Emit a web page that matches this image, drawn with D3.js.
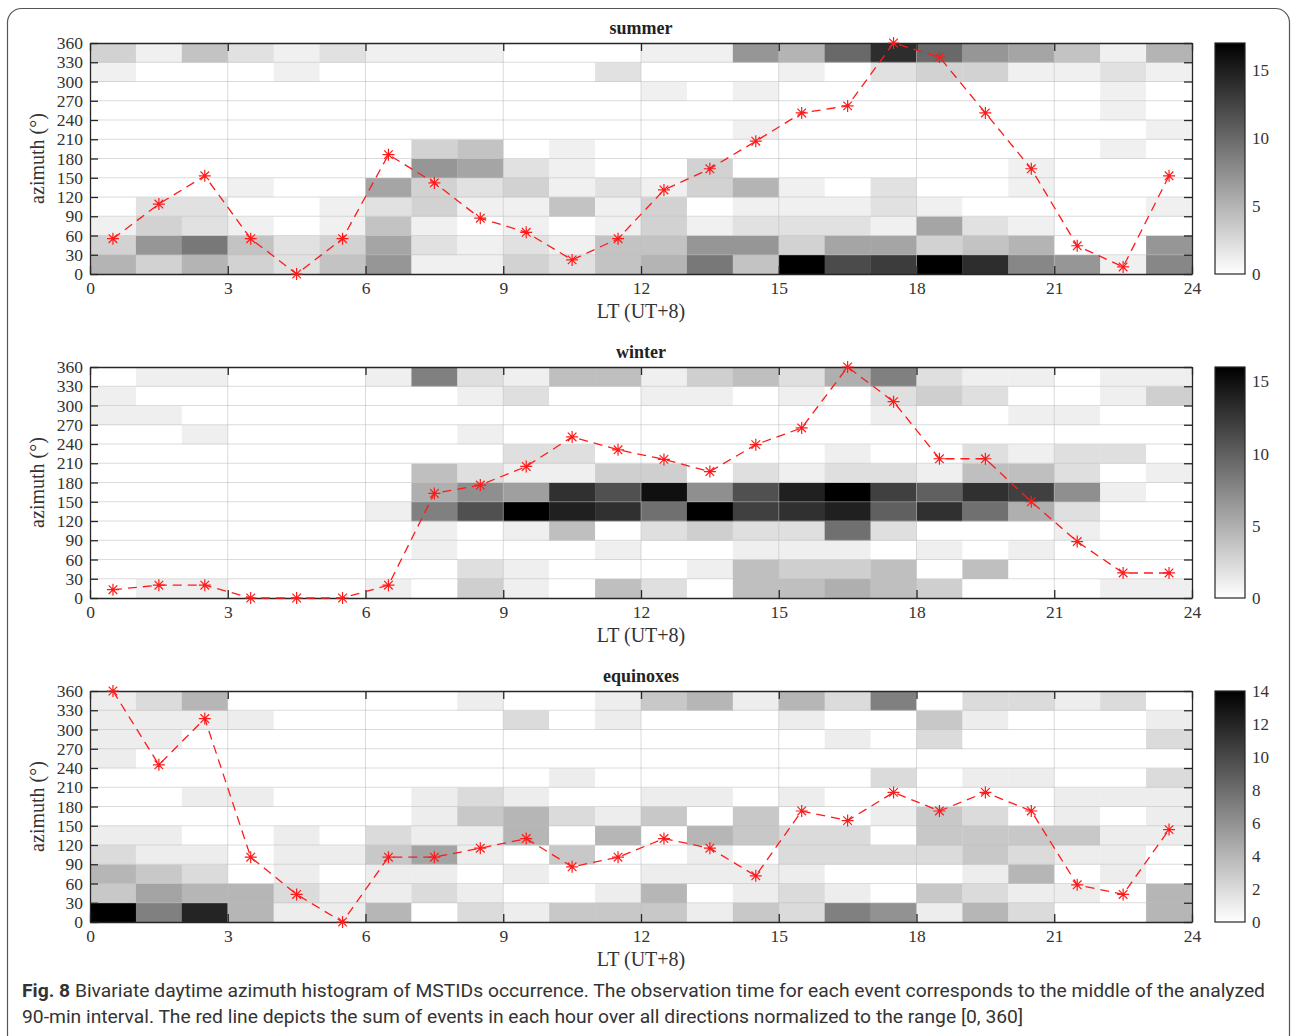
<!DOCTYPE html>
<html>
<head>
<meta charset="utf-8">
<script src="https://cdn.jsdelivr.net/npm/d3@7"></script>
<style>
  html, body { margin: 0; padding: 0; background: #fff; }
  svg { display: block; }
</style>
</head>
<body>
<svg id="fig" width="1291" height="1036"></svg>
<script>
// Local time hours (bin starts) and azimuth bins (bin starts, degrees)
const hours = d3.range(0, 24);
const azimuthBins = d3.range(0, 360, 30);
const hourTicks = [0, 3, 6, 9, 12, 15, 18, 21, 24];
const azimuthTicks = [0, 30, 60, 90, 120, 150, 180, 210, 240, 270, 300, 330, 360];

// Event counts, one row per azimuth bin (0-30 first), one column per hour
const summerCounts = [
  [5,3,5,3,2,4,7,1,1,3,2,4, 5,9,4,17,12,13,17,14,8,7,1,8],
  [3,7,9,4,2,3,6,2,1,2,1,4, 4,7,7,3,6,6,3,4,5,0,0,7],
  [1,3,2,1,0,1,4,1,0,1,0,1, 3,1,2,2,2,1,6,2,1,0,0,0],
  [0,2,2,0,0,1,2,3,1,1,4,1, 3,0,1,1,1,2,1,0,0,0,0,1],
  [0,0,0,1,0,0,6,3,2,3,1,2, 1,3,5,1,0,2,0,0,1,0,0,0],
  [0,0,0,0,0,0,0,7,6,2,1,0, 0,3,0,0,0,0,0,0,1,0,0,0],
  [0,0,0,0,0,0,0,3,4,0,1,0, 0,0,0,0,0,0,0,0,0,0,1,0],
  [0,0,0,0,0,0,0,0,0,0,0,0, 0,0,1,0,0,0,0,0,0,0,0,1],
  [0,0,0,0,0,0,0,0,0,0,0,0, 0,0,0,0,0,0,0,0,0,0,1,0],
  [0,0,0,0,0,0,0,0,0,0,0,0, 1,0,1,0,0,0,0,0,0,0,1,0],
  [1,0,0,0,1,0,0,0,0,0,0,2, 0,0,0,1,0,2,3,3,1,1,2,1],
  [3,1,4,2,1,2,1,1,1,0,0,0, 1,1,7,5,10,14,10,7,6,4,1,5]
];
const winterCounts = [
  [0,1,1,0,0,0,1,0,3,1,0,4, 2,0,4,4,5,4,3,0,0,0,1,1],
  [0,0,0,0,0,0,0,0,2,1,0,0, 0,1,4,3,3,4,0,4,0,0,0,0],
  [0,0,0,0,0,0,0,1,0,0,0,1, 0,0,1,1,1,0,1,0,1,0,0,0],
  [0,0,0,0,0,0,0,1,0,1,4,0, 2,3,2,2,9,2,0,0,0,1,0,0],
  [0,0,0,0,0,0,1,8,11,16,14,13, 9,16,12,13,14,10,13,9,5,2,0,0],
  [0,0,0,0,0,0,0,5,7,6,13,11, 15,7,11,14,16,12,10,13,12,7,1,0],
  [0,0,0,0,0,0,0,4,2,1,1,3, 3,0,2,1,2,2,1,4,4,2,0,1],
  [0,0,0,0,0,0,0,0,0,2,2,0, 0,0,0,0,1,0,0,2,1,2,2,0],
  [0,0,1,0,0,0,0,0,1,0,0,0, 0,0,0,0,0,0,0,0,0,0,0,0],
  [1,1,0,0,0,0,0,0,0,0,0,0, 0,0,0,0,0,1,0,0,1,1,0,0],
  [1,0,0,0,0,0,0,0,1,2,0,0, 1,1,0,1,0,2,3,2,0,0,1,3],
  [0,1,1,0,0,0,1,8,2,1,4,4, 1,3,4,2,5,8,2,1,1,0,1,1]
];
const equinoxCounts = [
  [14,7,12,4,1,1,4,0,2,1,3,3, 3,1,3,2,7,6,1,4,2,0,0,4],
  [3,5,4,4,2,1,1,2,1,0,0,1, 4,0,1,2,1,0,3,2,1,1,0,4],
  [4,3,2,0,1,0,1,1,0,1,0,0, 1,1,1,1,0,0,0,1,4,0,1,0],
  [2,1,1,0,1,1,3,5,1,0,3,0, 0,1,0,2,2,2,2,3,2,1,1,0],
  [1,1,0,0,1,0,2,1,1,4,0,4, 0,4,3,2,2,0,3,3,3,3,1,1],
  [0,0,0,0,0,0,0,1,3,4,2,1, 3,0,3,0,0,1,3,2,0,1,0,1],
  [0,0,1,1,0,0,0,1,2,1,0,0, 1,1,0,1,0,0,0,0,0,1,1,1],
  [0,0,0,0,0,0,0,0,0,0,1,0, 0,0,0,0,0,2,0,1,1,0,0,2],
  [1,0,0,0,0,0,0,0,0,0,0,0, 0,0,0,0,0,0,0,0,0,0,0,0],
  [1,1,0,0,0,0,0,0,0,0,0,0, 0,0,0,0,1,0,2,0,0,0,0,2],
  [1,1,1,1,0,0,0,0,0,2,0,1, 0,0,0,1,0,0,3,1,0,0,0,1],
  [1,2,4,0,0,0,0,0,1,0,0,1, 3,4,1,4,2,7,0,2,2,1,2,0]
];

// Hourly sums over all directions, normalized to [0, 360]
const summerSum = [55,109,153,55,0,55,186,142,87,65,22,55, 131,164,207,251,262,360,338,251,164,44,11,153];
const winterSum = [13,20,20,0,0,0,20,163,176,205,251,231, 216,197,239,265,360,306,217,217,150,88,39,39];
const equinoxSum = [360,245,317,101,43,0,101,101,115,130,86,101, 130,115,72,173,158,202,173,202,173,58,43,144];

// Colour bar extents and ticks
const colorMax = [17, 16, 14];
const colorTicks = [[0,5,10,15],[0,5,10,15],[0,2,4,6,8,10,12,14]];
const panelTitles = ["summer", "winter", "equinoxes"];
const panelCounts = [summerCounts, winterCounts, equinoxCounts];
const panelSums = [summerSum, winterSum, equinoxSum];

const svg = d3.select("#fig");
const serif = "'Liberation Serif', 'DejaVu Serif', serif";
const axisColor = "#262626";

// outer frame
svg.append("rect")
  .attr("x", 7.5).attr("y", 8.5).attr("width", 1282).attr("height", 1040)
  .attr("rx", 14).attr("fill", "none").attr("stroke", "#555").attr("stroke-width", 1.2);

const plotLeft = 90, plotRight = 1192, plotH = 231;
const panelTops = [43, 367, 691];
const x = d3.scaleLinear().domain([0, 24]).range([plotLeft, plotRight]);

// gradient for colour bars
const defs = svg.append("defs");
const grad = defs.append("linearGradient").attr("id", "grayRamp")
  .attr("x1", 0).attr("y1", 1).attr("x2", 0).attr("y2", 0);
grad.append("stop").attr("offset", "0%").attr("stop-color", "#fff");
grad.append("stop").attr("offset", "100%").attr("stop-color", "#000");

const asterisk = "M0,-6V6M-6,0H6M-4.3,-4.3L4.3,4.3M-4.3,4.3L4.3,-4.3";

panelTitles.forEach((title, p) => {
  const top = panelTops[p], bottom = top + plotH;
  const y = d3.scaleLinear().domain([0, 360]).range([bottom, top]);
  const color = d3.scaleLinear().domain([0, colorMax[p]]).range(["#ffffff", "#000000"]);
  const g = svg.append("g");

  // heat map cells
  const cells = [];
  panelCounts[p].forEach((row, r) => row.forEach((v, c) => cells.push({h: hours[c], a: azimuthBins[r], v})));
  g.append("g").selectAll("rect").data(cells).join("rect")
    .attr("x", d => x(d.h))
    .attr("y", d => y(d.a + 30))
    .attr("width", d => x(d.h + 1) - x(d.h) + 0.3)
    .attr("height", d => y(d.a) - y(d.a + 30) + 0.3)
    .attr("fill", d => color(d.v));

  // grid
  const grid = g.append("g").attr("stroke", "#bdbdbd").attr("stroke-opacity", 0.55).attr("stroke-width", 1);
  grid.selectAll(".gx").data(hourTicks.slice(1, -1)).join("line")
    .attr("x1", d => x(d)).attr("x2", d => x(d)).attr("y1", top).attr("y2", bottom);
  grid.selectAll(".gy").data(azimuthTicks.slice(1, -1)).join("line")
    .attr("y1", d => y(d)).attr("y2", d => y(d)).attr("x1", plotLeft).attr("x2", plotRight);

  // axes (box with inward ticks)
  const styleAxis = sel => {
    sel.attr("font-family", serif).attr("font-size", 17);
    sel.selectAll("path").attr("stroke", axisColor).attr("stroke-width", 1.3);
    sel.selectAll("line").attr("stroke", axisColor).attr("stroke-width", 1.3);
    sel.selectAll("text").attr("fill", "#333").style("font-family", serif).style("font-size", "17.5px");
  };
  g.append("g").attr("transform", `translate(0,${bottom})`)
    .call(d3.axisBottom(x).tickValues(hourTicks).tickFormat(d3.format("d")).tickSizeInner(-8).tickSizeOuter(0).tickPadding(8))
    .call(styleAxis);
  g.append("g").attr("transform", `translate(0,${top})`)
    .call(d3.axisTop(x).tickValues(hourTicks).tickFormat("").tickSizeInner(-8).tickSizeOuter(0))
    .call(styleAxis);
  g.append("g").attr("transform", `translate(${plotLeft},0)`)
    .call(d3.axisLeft(y).tickValues(azimuthTicks).tickFormat(d3.format("d")).tickSizeInner(-8).tickSizeOuter(0).tickPadding(7))
    .call(styleAxis);
  g.append("g").attr("transform", `translate(${plotRight},0)`)
    .call(d3.axisRight(y).tickValues(azimuthTicks).tickFormat("").tickSizeInner(-8).tickSizeOuter(0))
    .call(styleAxis);
  g.selectAll(".domain").attr("fill", "none");

  // normalized hourly sum
  const pts = panelSums[p].map((v, i) => ({h: hours[i] + 0.5, v}));
  g.append("path").datum(pts)
    .attr("fill", "none").attr("stroke", "#ff1a1a").attr("stroke-width", 1.3)
    .attr("stroke-dasharray", "9,6")
    .attr("d", d3.line().x(d => x(d.h)).y(d => y(d.v)));
  g.append("g").selectAll("path").data(pts).join("path")
    .attr("transform", d => `translate(${x(d.h)},${y(d.v)})`)
    .attr("d", asterisk).attr("stroke", "#ff1a1a").attr("stroke-width", 1.2).attr("fill", "none");

  // labels
  g.append("text").attr("x", (plotLeft + plotRight) / 2).attr("y", top - 9)
    .attr("text-anchor", "middle").attr("font-family", serif).attr("font-weight", "bold")
    .attr("font-size", 18).attr("fill", "#222").text(title);
  g.append("text").attr("x", (plotLeft + plotRight) / 2).attr("y", bottom + 44)
    .attr("text-anchor", "middle").attr("font-family", serif)
    .attr("font-size", 20).attr("fill", "#333").text("LT (UT+8)");
  g.append("text").attr("transform", `translate(44,${(top + bottom) / 2}) rotate(-90)`)
    .attr("text-anchor", "middle").attr("font-family", serif)
    .attr("font-size", 20).attr("fill", "#333").text("azimuth (°)");

  // colour bar
  const cb = g.append("g");
  const cbY = d3.scaleLinear().domain([0, colorMax[p]]).range([bottom, top]);
  cb.append("rect").attr("x", 1215).attr("y", top).attr("width", 30).attr("height", plotH)
    .attr("fill", "url(#grayRamp)").attr("stroke", axisColor).attr("stroke-width", 1.2);
  cb.selectAll("text").data(colorTicks[p]).join("text")
    .attr("x", 1252).attr("y", d => cbY(d)).attr("dy", "0.35em")
    .attr("font-family", serif).attr("font-size", 17).attr("fill", "#333").text(d => d);
});

// caption
const sans = "'Liberation Sans Narrow', 'Roboto', 'Liberation Sans', sans-serif";
const cap1 = svg.append("text").attr("x", 22).attr("y", 997)
  .attr("font-family", sans).attr("font-size", 19).attr("fill", "#333")
  .attr("textLength", 1243).attr("lengthAdjust", "spacingAndGlyphs");
cap1.append("tspan").attr("font-weight", "bold").text("Fig. 8");
cap1.append("tspan").text("  Bivariate daytime azimuth histogram of MSTIDs occurrence. The observation time for each event corresponds to the middle of the analyzed");
svg.append("text").attr("x", 22).attr("y", 1023)
  .attr("font-family", sans).attr("font-size", 19).attr("fill", "#333")
  .attr("textLength", 1001).attr("lengthAdjust", "spacingAndGlyphs")
  .text("90-min interval. The red line depicts the sum of events in each hour over all directions normalized to the range [0, 360]");
</script>
</body>
</html>
